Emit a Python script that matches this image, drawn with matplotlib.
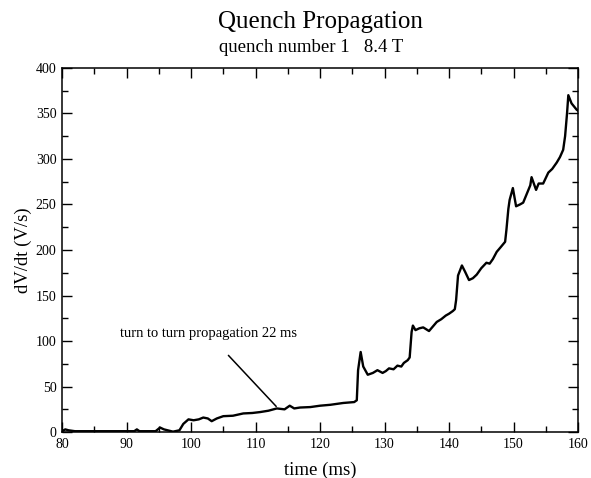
import numpy as np
import matplotlib
matplotlib.use("Agg")
import matplotlib.pyplot as plt
from matplotlib.ticker import MultipleLocator

plt.rcParams['font.family'] = ['Liberation Serif', 'DejaVu Serif']

# quench 1, 8.4 T : dV/dt trace
time_ms = [80, 80.5, 81, 82, 85, 88, 90, 91.2, 91.6, 92, 94.5, 95.2, 95.8,
           97.2, 98.2, 98.8, 99.6, 100.4, 101.2, 101.9, 102.6, 103.2, 104,
           105, 106.5, 108.1, 109.5, 110.7, 112, 113.3, 114.5, 115.3, 116.0,
           116.9, 118.5, 120, 121.6, 123.6, 125.3, 125.7, 125.9, 126.3, 126.7,
           127.4, 128.2, 128.9, 129.7, 130.2, 130.7, 131.4, 132.0, 132.6,
           133.0, 133.6, 133.9, 134.2, 134.4, 134.8, 135.4, 136.0, 136.9,
           137.5, 138.1, 138.8, 139.5, 140.0, 140.6, 140.9, 141.1, 141.4,
           142.0, 142.5, 143.1, 143.7, 144.3, 145.0, 145.8, 146.3, 146.8,
           147.4, 148.0, 148.7, 148.9, 149.2, 149.4, 149.9, 150.4, 151.0,
           151.5, 152.6, 152.8, 153.5, 153.9, 154.6, 155.4, 156.0, 156.7,
           157.2, 157.7, 158.0, 158.3, 158.5, 159.0, 159.8, 160]
dvdt = [1, 3, 2, 1, 1, 1, 1, 1, 3, 1, 1, 5, 3,
        0.5, 2, 9, 14, 13, 14, 16, 15, 12, 15,
        17.5, 18, 20.5, 21, 22, 23.5, 26, 25, 29, 26,
        27, 27.5, 29, 30, 32, 33, 35, 68, 88, 72,
        63, 65, 68, 65, 67, 70, 69, 73, 72,
        76, 79, 82, 110, 117, 112, 114, 115, 111,
        116, 121, 124, 128, 130, 133, 135, 145, 172,
        183, 176, 167, 169, 173, 180, 186, 185, 190,
        198, 203, 209, 222, 245, 255, 268, 248, 250,
        252, 271, 280, 266, 273, 273, 285, 289, 296,
        302, 310, 325, 350, 370, 361, 354, 353]

note_text = "turn to turn propagation 22 ms"
note_xy = (113.5, 26)       # point on the trace
note_xytext = (105.5, 86.5)  # end of the leader line

fig = plt.figure(figsize=(5.91, 4.78), dpi=100)
ax = fig.add_axes([0.105, 0.096, 0.873, 0.762])

ax.plot(time_ms, dvdt, color='black', lw=1.7)

ax.set_xlim(80, 160)
ax.set_ylim(0, 400)
ax.xaxis.set_major_locator(MultipleLocator(10))
ax.xaxis.set_minor_locator(MultipleLocator(5))
ax.yaxis.set_major_locator(MultipleLocator(50))
ax.yaxis.set_minor_locator(MultipleLocator(25))
ax.tick_params(which='both', direction='in', top=True, right=True,
               labelsize=10, pad=4)
ax.tick_params(which='major', length=7, width=1)
ax.tick_params(which='minor', length=4, width=1)
for s in ax.spines.values():
    s.set_linewidth(1.1)

ax.set_xlabel('time (ms)', fontsize=13.5, labelpad=8)
ax.set_ylabel('dV/dt (V/s)', fontsize=13.5, labelpad=3)

ax.annotate('', xy=note_xy, xytext=note_xytext,
            arrowprops=dict(arrowstyle='-', color='black', lw=1.1))
ax.text(89, 108, note_text, fontsize=10.5, ha='left', va='center')

fig.text(0.542, 0.955, 'Quench Propagation', ha='center', va='center',
         fontsize=18)
fig.text(0.527, 0.9, 'quench number 1   8.4 T', ha='center', va='center',
         fontsize=13.5)

fig.savefig('out.png', dpi=100)
